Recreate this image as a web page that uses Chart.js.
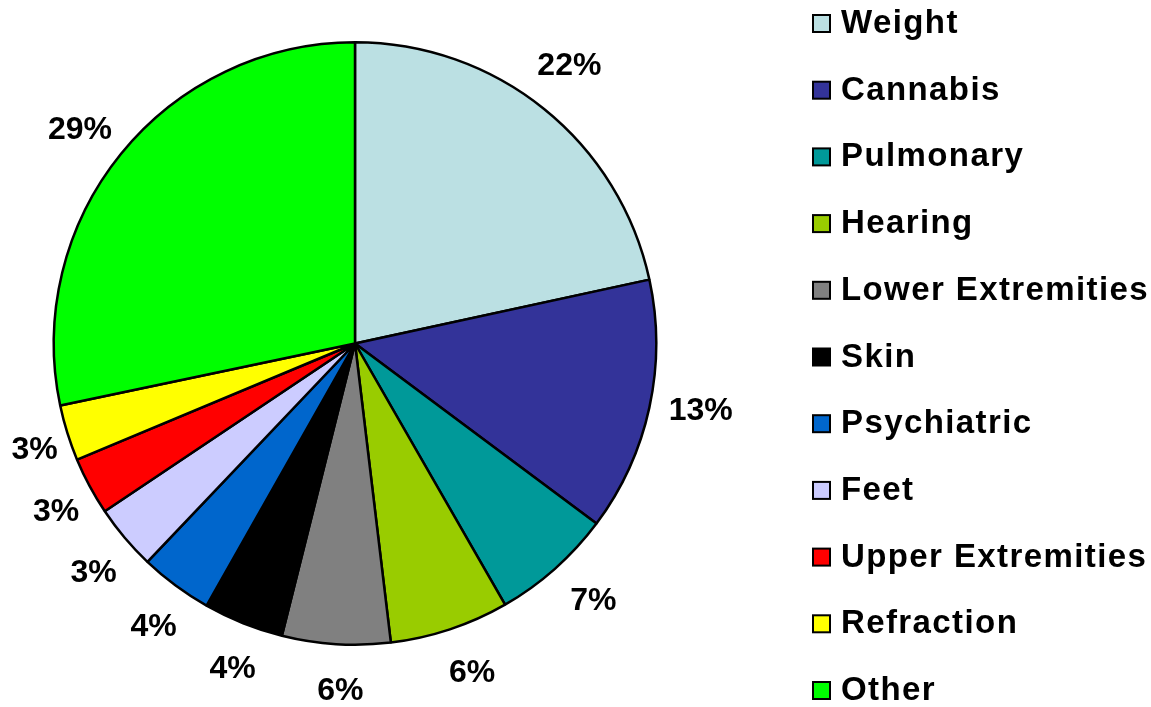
<!DOCTYPE html>
<html>
<head>
<meta charset="utf-8">
<script src="https://cdn.jsdelivr.net/npm/chart.js@4/dist/chart.umd.min.js"></script>
<style>
    html, body { margin: 0; padding: 0; background: #fff; }
    #wrap { width: 1151px; height: 707px; position: relative; }
</style>
</head>
<body>
<div id="wrap"><canvas id="myChart"></canvas></div>
<script>
// categories, in clockwise order from 12 o'clock
var categories = ['Weight', 'Cannabis', 'Pulmonary', 'Hearing', 'Lower Extremities', 'Skin',
    'Psychiatric', 'Feet', 'Upper Extremities', 'Refraction', 'Other'];
// share of each category (percent)
var shares = [21.6, 13.6, 6.5, 6.4, 5.8, 4.3, 3.9, 3.5, 3.1, 3.0, 28.3];
// labels as printed on the chart
var shareLabels = ['22%', '13%', '7%', '6%', '6%', '4%', '4%', '3%', '3%', '3%', '29%'];
var colors = ['#BBE0E3', '#333399', '#009999', '#99CC00', '#808080', '#000000',
    '#0066CC', '#CCCCFF', '#FF0000', '#FFFF00', '#00FF00'];

var LABEL_FONT = 'bold 32px "Liberation Sans", Arial, sans-serif';
var LEGEND_FONT = 'bold 33px "Liberation Sans", Arial, sans-serif';

// percentage labels just outside each slice
var outsideLabels = {
    id: 'outsideLabels',
    afterDatasetsDraw: function(chart) {
        var ctx = chart.ctx;
        var meta = chart.getDatasetMeta(0);
        ctx.save();
        ctx.font = LABEL_FONT;
        ctx.fillStyle = '#000';
        ctx.textAlign = 'center';
        ctx.textBaseline = 'middle';
        meta.data.forEach(function(arc, i) {
            var p = arc.getProps(['x', 'y', 'startAngle', 'endAngle', 'outerRadius'], true);
            var mid = (p.startAngle + p.endAngle) / 2 - 1.2 * Math.PI / 180;
            var c = Math.cos(mid);
            // a bit further out on the right, pulled in on the far left
            var dist = p.outerRadius + 47 + 4 * Math.max(c, 0) - 70 * Math.max(0, -c - 0.8);
            ctx.fillText(shareLabels[i], p.x + c * dist, p.y + Math.sin(mid) * dist);
        });
        ctx.restore();
    }
};

// legend column on the right
var sideLegend = {
    id: 'sideLegend',
    afterDraw: function(chart) {
        var ctx = chart.ctx;
        ctx.save();
        ctx.font = LEGEND_FONT;
        ctx.letterSpacing = '1.4px';
        ctx.textAlign = 'left';
        ctx.textBaseline = 'middle';
        for (var i = 0; i < categories.length; i++) {
            var cy = 23 + i * 66.7;
            ctx.fillStyle = colors[i];
            ctx.fillRect(813, cy - 8, 17, 17);
            ctx.lineWidth = 2;
            ctx.strokeStyle = '#000';
            ctx.strokeRect(813, cy - 8, 17, 17);
            ctx.fillStyle = '#000';
            ctx.fillText(categories[i], 841, cy + 1);
        }
        ctx.restore();
    }
};

var ctx = document.getElementById('myChart').getContext('2d');
var myChart = new Chart(ctx, {
    type: 'pie',
    data: {
        labels: categories,
        datasets: [{
            data: shares,
            backgroundColor: colors,
            borderColor: '#000',
            borderWidth: 2.5
        }]
    },
    options: {
        responsive: true,
        maintainAspectRatio: false,
        animation: false,
        layout: { padding: { top: 41, bottom: 61, left: 0, right: 441 } },
        plugins: {
            legend: { display: false },
            tooltip: { enabled: false }
        }
    },
    plugins: [outsideLabels, sideLegend]
});
</script>
</body>
</html>
